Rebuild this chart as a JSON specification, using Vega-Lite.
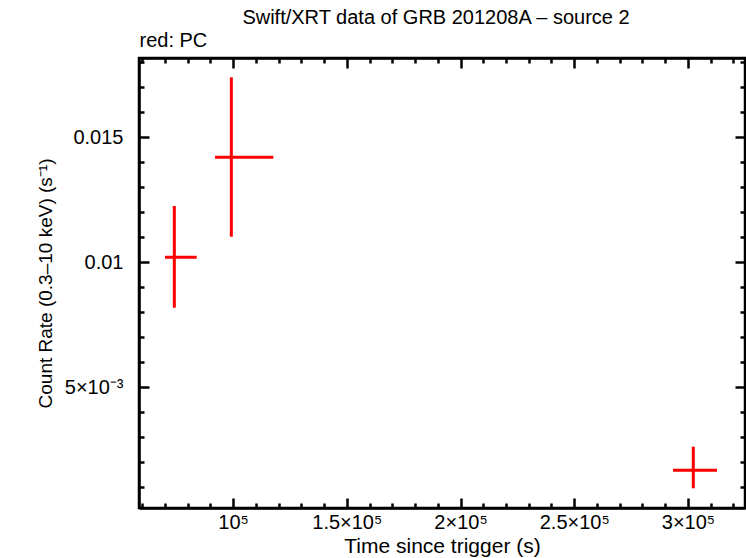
{
  "$schema": "https://vega.github.io/schema/vega-lite/v6.json",
  "width": 606,
  "height": 450,
  "autosize": "none",
  "padding": {"left": 139, "top": 58, "right": 1, "bottom": 50},
  "background": "white",
  "config": {
    "font": "Liberation Sans",
    "view": {"stroke": "black", "strokeWidth": 2.5},
    "axis": {
      "domainColor": "black",
      "domainWidth": 2.5,
      "tickColor": "black",
      "tickWidth": 2.5,
      "labelFont": "Liberation Sans",
      "labelFontSize": 20,
      "labelColor": "black",
      "titleFont": "Liberation Sans",
      "titleFontSize": 20,
      "titleFontWeight": "normal",
      "titleColor": "black",
      "grid": false
    }
  },
  "title": {
    "text": "Swift/XRT data of GRB 201208A  –  source 2",
    "fontSize": 20,
    "fontWeight": "normal",
    "font": "Liberation Sans",
    "color": "black",
    "anchor": "middle",
    "dx": -6,
    "offset": 3
  },
  "data": {
    "values": [
      {"t": 74186, "tlo": 70097, "thi": 84037, "rate": 0.01019, "rlo": 0.008172, "rhi": 0.01224},
      {"t": 99252, "tlo": 92084, "thi": 117722, "rate": 0.014188, "rlo": 0.011012, "rhi": 0.017388},
      {"t": 302330, "tlo": 293404, "thi": 312753, "rate": 0.001668, "rlo": 0.000948, "rhi": 0.002612}
    ]
  },
  "layer": [
    {
      "mark": {"type": "rule", "color": "#ff0000", "strokeWidth": 3},
      "encoding": {
        "x": {
          "field": "t",
          "type": "quantitative",
          "scale": {"domain": [58660, 325066], "nice": false, "zero": false},
          "axis": {
            "orient": "bottom",
            "title": "Time since trigger (s)",
            "titleFontSize": 21,
            "titlePadding": 3,
            "values": [60000, 70000, 80000, 90000, 100000, 110000, 120000, 130000, 140000, 150000, 160000, 170000, 180000, 190000, 200000, 210000, 220000, 230000, 240000, 250000, 260000, 270000, 280000, 290000, 300000, 310000, 320000],
            "tickSize": {"condition": {"test": "datum.value % 50000 === 0", "value": -10}, "value": -5},
            "labelPadding": 14,
            "labelExpr": "datum.value % 50000 !== 0 ? '' : (datum.value === 100000 ? '10⁵' : (datum.value / 100000) + '×10⁵')"
          }
        },
        "y": {
          "field": "rlo",
          "type": "quantitative",
          "scale": {"domain": [0.00016, 0.01816], "nice": false, "zero": false},
          "axis": {
            "orient": "left",
            "title": "Count Rate (0.3–10 keV) (s⁻¹)",
            "titleFontSize": 19,
            "titlePadding": 9,
            "values": [0.001, 0.002, 0.003, 0.004, 0.005, 0.006, 0.007, 0.008, 0.009, 0.01, 0.011, 0.012, 0.013, 0.014, 0.015, 0.016, 0.017, 0.018],
            "tickSize": {"condition": {"test": "abs(datum.value * 200 - round(datum.value * 200)) < 1e-6", "value": -10}, "value": -5},
            "labelPadding": 26,
            "labelExpr": "round(datum.value * 1000) === 15 ? '0.015' : (round(datum.value * 1000) === 10 ? '0.01' : (round(datum.value * 1000) === 5 ? '5×10⁻³' : ''))"
          }
        },
        "y2": {"field": "rhi"}
      }
    },
    {
      "mark": {"type": "rule", "color": "#ff0000", "strokeWidth": 3},
      "encoding": {
        "x": {
          "field": "tlo",
          "type": "quantitative",
          "scale": {"domain": [58660, 325066], "nice": false, "zero": false},
          "axis": {
            "orient": "top",
            "title": "red: PC",
            "titleAnchor": "start",
            "titleAlign": "left",
            "titlePadding": 6,
            "labels": false,
            "values": [60000, 70000, 80000, 90000, 100000, 110000, 120000, 130000, 140000, 150000, 160000, 170000, 180000, 190000, 200000, 210000, 220000, 230000, 240000, 250000, 260000, 270000, 280000, 290000, 300000, 310000, 320000],
            "tickSize": {"condition": {"test": "datum.value % 50000 === 0", "value": -10}, "value": -5}
          }
        },
        "x2": {"field": "thi"},
        "y": {
          "field": "rate",
          "type": "quantitative",
          "scale": {"domain": [0.00016, 0.01816], "nice": false, "zero": false},
          "axis": {
            "orient": "right",
            "title": null,
            "labels": false,
            "values": [0.001, 0.002, 0.003, 0.004, 0.005, 0.006, 0.007, 0.008, 0.009, 0.01, 0.011, 0.012, 0.013, 0.014, 0.015, 0.016, 0.017, 0.018],
            "tickSize": {"condition": {"test": "abs(datum.value * 200 - round(datum.value * 200)) < 1e-6", "value": -10}, "value": -5}
          }
        }
      }
    }
  ],
  "resolve": {"axis": {"x": "independent", "y": "independent"}}
}
